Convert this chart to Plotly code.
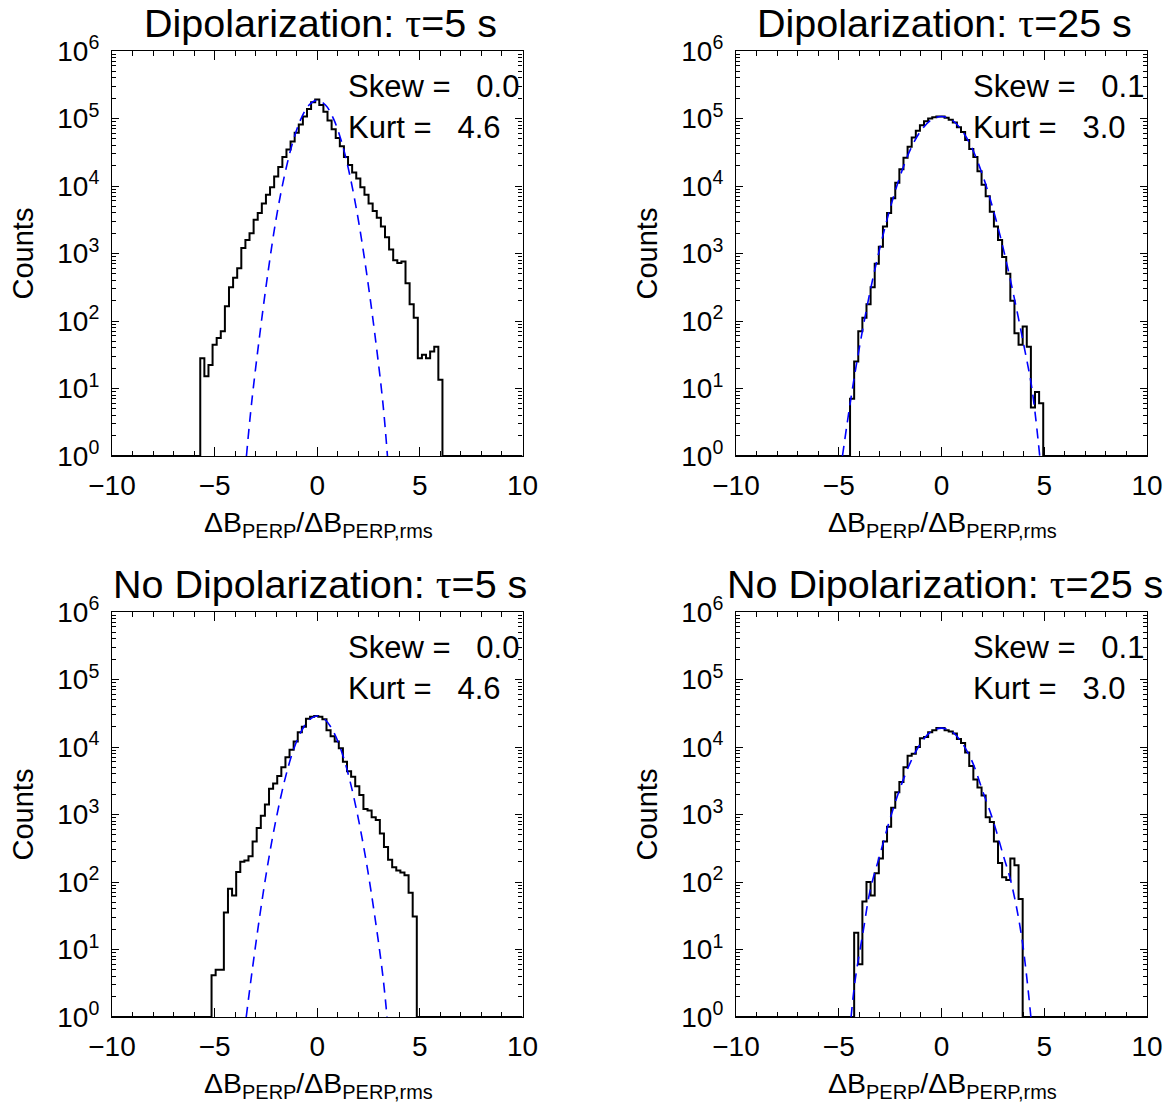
import plotly.graph_objects as go

# ---------------- data ----------------
titles = ["Dipolarization: τ=5 s", "Dipolarization: τ=25 s",
          "No Dipolarization: τ=5 s", "No Dipolarization: τ=25 s"]
skew_values = ["0.0", "0.1", "0.0", "0.1"]
kurt_values = ["4.6", "3.0", "4.6", "3.0"]

x_tick_vals = [-10, -5, 0, 5, 10]
x_tick_text = ["\u221210", "\u22125", "0", "5", "10"]
y_tick_vals = [1, 10, 100, 1000, 10000, 100000, 1000000]
y_tick_text = ["10<sup>%d</sup>" % k for k in range(7)]
y_minor_tick_vals = [m * 10 ** e for e in range(6) for m in range(2, 10)]

bin_width = 0.2

# Dipolarization, tau = 5 s  (log10 counts, bins starting at -5.7)
dip5_first_edge = -5.7
dip5_log10_counts = [1.45, 1.18, 1.35, 1.65, 1.75, 1.85, 2.22, 2.50, 2.64, 2.78,
                     3.08, 3.20, 3.30, 3.50, 3.60, 3.74, 3.87, 3.98, 4.14, 4.28,
                     4.43, 4.54, 4.66, 4.79, 4.91, 5.03, 5.14, 5.24, 5.28,
                     5.20, 5.10, 4.97, 4.84, 4.71, 4.59, 4.43, 4.31, 4.20, 4.11,
                     3.98, 3.87, 3.74, 3.63, 3.53, 3.40, 3.24, 3.06, 2.90, 2.86,
                     2.88, 2.56, 2.25, 2.05, 1.45, 1.50, 1.45, 1.55, 1.62, 1.13]
dip5_fit_x = [-3.45, -3.2, -2.8, -2.4, -2.0, -1.6, -1.2, -0.8, -0.4, 0.0,
              0.4, 0.8, 1.2, 1.6, 2.0, 2.4, 2.8, 3.2, 3.42]
dip5_fit_log10 = [0.0, 0.78, 1.80, 2.72, 3.52, 4.15, 4.64, 4.99, 5.20, 5.27,
                  5.20, 4.99, 4.64, 4.14, 3.50, 2.72, 1.82, 0.78, 0.0]

# Dipolarization, tau = 25 s (bins starting at -4.45)
dip25_first_edge = -4.45
dip25_log10_counts = [0.85, 1.40, 1.85, 2.05, 2.25, 2.50, 2.85, 3.10, 3.40, 3.60,
                      3.82, 4.05, 4.25, 4.42, 4.58, 4.72, 4.82, 4.90, 4.96, 5.00,
                      5.02, 5.03, 5.03, 5.01, 4.98, 4.94, 4.87, 4.80, 4.68, 4.55,
                      4.43, 4.22, 4.02, 3.85, 3.62, 3.40, 3.20, 2.95, 2.70, 2.30,
                      1.82, 1.65, 1.92, 1.62, 0.72, 0.95, 0.78]
dip25_fit_x = [-4.82, -4.4, -4.0, -3.5, -3.0, -2.5, -2.0, -1.5, -1.0, -0.5, 0.0,
               0.5, 1.0, 1.5, 2.0, 2.5, 3.0, 3.5, 4.0, 4.4, 4.78]
dip25_fit_log10 = [0.0, 0.87, 1.60, 2.40, 3.08, 3.67, 4.16, 4.55, 4.82, 4.98, 5.03,
                   4.98, 4.82, 4.55, 4.16, 3.67, 3.08, 2.40, 1.65, 1.00, 0.0]

# No Dipolarization, tau = 5 s (bins starting at -5.15)
nodip5_first_edge = -5.15
nodip5_log10_counts = [0.62, 0.70, 0.70, 1.55, 1.90, 1.80, 2.15, 2.30, 2.32, 2.38,
                       2.60, 2.80, 2.98, 3.15, 3.38, 3.46, 3.57, 3.70, 3.85, 3.96,
                       4.08, 4.22, 4.30, 4.42, 4.45, 4.46, 4.45, 4.41, 4.25, 4.16,
                       4.08, 3.98, 3.78, 3.64, 3.56, 3.42, 3.29, 3.08, 3.06, 2.96,
                       2.92, 2.72, 2.52, 2.33, 2.22, 2.17, 2.14, 2.10, 1.84, 1.49]
nodip5_fit_x = [-3.46, -3.2, -2.8, -2.4, -2.0, -1.6, -1.2, -0.8, -0.4, 0.0,
                0.4, 0.8, 1.2, 1.6, 2.0, 2.4, 2.8, 3.2, 3.40]
nodip5_fit_log10 = [0.0, 0.62, 1.50, 2.28, 2.94, 3.49, 3.92, 4.22, 4.40, 4.46,
                    4.40, 4.22, 3.92, 3.49, 2.94, 2.28, 1.50, 0.60, 0.0]

# No Dipolarization, tau = 25 s (bins starting at -4.25)
nodip25_first_edge = -4.25
nodip25_log10_counts = [1.25, 0.78, 1.71, 2.00, 1.80, 2.13, 2.35, 2.60, 2.82, 3.10,
                        3.33, 3.48, 3.70, 3.87, 3.90, 4.00, 4.13, 4.15, 4.22, 4.25,
                        4.28, 4.28, 4.25, 4.23, 4.20, 4.12, 4.06, 3.92, 3.72, 3.52,
                        3.40, 3.28, 2.96, 2.89, 2.60, 2.28, 2.07, 2.03, 2.35, 2.25,
                        1.75]
nodip25_fit_x = [-4.40, -4.2, -3.8, -3.47, -3.0, -2.5, -2.0, -1.5, -1.0, -0.5, 0.0,
                 0.5, 1.0, 1.5, 2.0, 2.5, 3.0, 3.4, 3.9, 4.35]
nodip25_fit_log10 = [0.0, 0.55, 1.29, 1.88, 2.40, 2.94, 3.40, 3.78, 4.06, 4.23, 4.28,
                     4.23, 4.06, 3.78, 3.35, 2.92, 2.40, 1.98, 1.19, 0.0]

panels_data = [
    (dip5_first_edge, dip5_log10_counts, dip5_fit_x, dip5_fit_log10),
    (dip25_first_edge, dip25_log10_counts, dip25_fit_x, dip25_fit_log10),
    (nodip5_first_edge, nodip5_log10_counts, nodip5_fit_x, nodip5_fit_log10),
    (nodip25_first_edge, nodip25_log10_counts, nodip25_fit_x, nodip25_fit_log10),
]

# ---------------- layout geometry (pixels) ----------------
W, H = 1171, 1113
col_px = [(112, 522.5), (736, 1147)]
row_px = [(51, 456), (612, 1017)]
FONT = "Liberation Sans, Arial, Helvetica, sans-serif"
SERIF = "Liberation Serif"


def fx(p):
    return p / W


def fy(p):
    return 1 - p / H


fig = go.Figure()
annotations = []

for i, (first_edge, logc, fit_x, fit_log) in enumerate(panels_data):
    r, c = divmod(i, 2)
    ax = "" if i == 0 else str(i + 1)
    xa, ya = "x" + ax, "y" + ax
    n = len(logc)
    edges = [round(first_edge + bin_width * k, 3) for k in range(n + 1)]
    xs = [-10] + edges + [10]
    ys = [1] + [10 ** v for v in logc] + [1, 1]
    fig.add_trace(go.Scatter(x=xs, y=ys, mode="lines", line=dict(color="black", width=2, shape="hv"),
                             xaxis=xa, yaxis=ya, showlegend=False, hoverinfo="skip"))
    fig.add_trace(go.Scatter(x=fit_x, y=[10 ** v for v in fit_log], mode="lines",
                             line=dict(color="#0000ff", width=1.6, dash="10px,7px", shape="spline", smoothing=1.0),
                             xaxis=xa, yaxis=ya, showlegend=False, hoverinfo="skip"))

    x0, x1 = col_px[c]
    y0, y1 = row_px[r]
    xdict = dict(domain=[fx(x0), fx(x1)], anchor=ya, range=[-10, 10], automargin=False,
                 tickmode="array", tickvals=x_tick_vals, ticktext=x_tick_text, ticks="inside", ticklen=9,
                 tickwidth=1.2, tickcolor="black", showline=True, linecolor="black", linewidth=1.2,
                 mirror="allticks", showgrid=False, zeroline=False, ticklabelstandoff=4,
                 tickfont=dict(family=FONT, size=28, color="black"),
                 minor=dict(tickmode="linear", tick0=0, dtick=1, ticks="inside", ticklen=4.5,
                            tickcolor="black", tickwidth=1, showgrid=False))
    ydict = dict(domain=[fy(y1), fy(y0)], anchor=xa, type="log", range=[0, 6], automargin=False,
                 tickmode="array", tickvals=y_tick_vals, ticktext=y_tick_text, ticks="inside", ticklen=7,
                 tickwidth=1.2, tickcolor="black", showline=True, linecolor="black", linewidth=1.2,
                 mirror="allticks", showgrid=False, zeroline=False, ticklabelstandoff=6,
                 tickfont=dict(family=FONT, size=28, color="black"),
                 minor=dict(tickmode="array", tickvals=y_minor_tick_vals, ticks="inside", ticklen=4,
                            tickcolor="black", tickwidth=1, showgrid=False))
    fig.update_layout(**{"xaxis" + ax: xdict, "yaxis" + ax: ydict})

    cx = (x0 + x1) / 2
    # panel title
    t = titles[i].replace("τ", "<span style='font-family:%s'>τ</span>" % SERIF)
    annotations.append(dict(text=t, x=fx(cx + 3), y=fy(y0 - 28), xref="paper", yref="paper",
                            xanchor="center", yanchor="middle", showarrow=False,
                            font=dict(family=FONT, size=39.5, color="black")))
    # x-axis title
    annotations.append(dict(text="ΔB<sub>PERP</sub>/ΔB<sub>PERP,rms</sub>", x=fx(cx + 1), y=fy(y1 + 68),
                            xref="paper", yref="paper", xanchor="center", yanchor="middle",
                            showarrow=False, font=dict(family=FONT, size=28.5, color="black")))
    # y-axis title
    annotations.append(dict(text="Counts", x=fx(x0 - 90), y=fy((y0 + y1) / 2), xref="paper", yref="paper",
                            xanchor="center", yanchor="middle", textangle=-90, showarrow=False,
                            font=dict(family=FONT, size=29, color="black")))
    # statistics
    annotations.append(dict(text="Skew =\u00a0\u00a0\u00a0" + skew_values[i], x=1.42, y=5.47, xref=xa, yref=ya,
                            xanchor="left", yanchor="middle", showarrow=False,
                            font=dict(family=FONT, size=31, color="black")))
    annotations.append(dict(text="Kurt =\u00a0\u00a0\u00a0" + kurt_values[i], x=1.42, y=4.87, xref=xa, yref=ya,
                            xanchor="left", yanchor="middle", showarrow=False,
                            font=dict(family=FONT, size=31, color="black")))

fig.update_layout(width=W, height=H, margin=dict(l=0, r=0, t=0, b=0),
                  paper_bgcolor="white", plot_bgcolor="white",
                  annotations=annotations, font=dict(family=FONT, color="black"))

fig.write_html("out.html")
